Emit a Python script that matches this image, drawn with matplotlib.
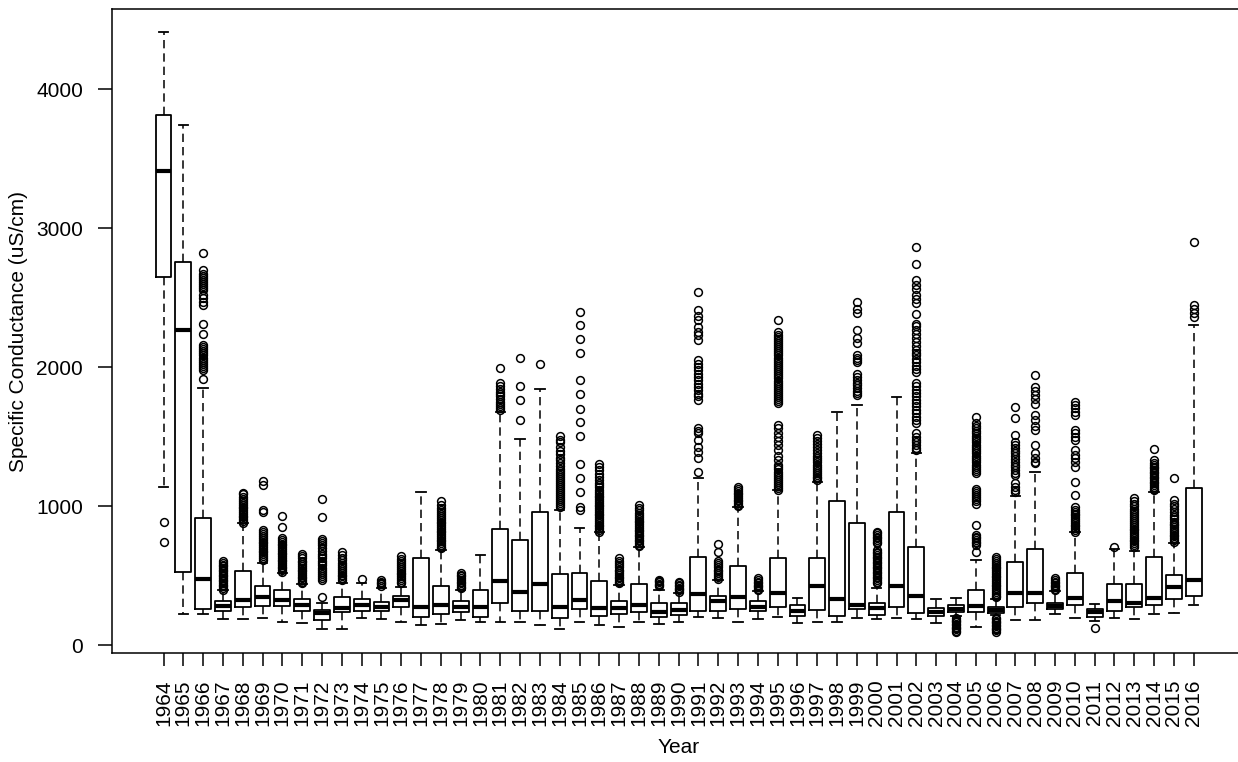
import matplotlib
matplotlib.use("Agg")
import matplotlib.pyplot as plt

plt.rcParams['font.family'] = ['Liberation Sans', 'DejaVu Sans']
plt.rcParams['lines.scale_dashes'] = False

years = list(range(1964, 2017))

whislo = [1136, 223, 223, 186, 186, 199, 170, 158, 117, 117, 199, 186, 170, 146, 153, 182, 170, 170, 170, 146,
          117, 170, 146, 130, 170, 153, 170, 206, 194, 170, 186, 206, 158, 170, 170, 199, 186, 194, 186, 158,
          208, 134, 220, 182, 182, 223, 199, 177, 199, 186, 223, 234, 290]
q1 = [2650, 529, 261, 246, 272, 285, 285, 248, 182, 236, 248, 248, 277, 206, 223, 236, 206, 302, 248, 248,
      194, 258, 213, 223, 236, 206, 218, 248, 248, 261, 246, 273, 213, 254, 211, 261, 218, 277, 234, 213,
      238, 236, 234, 273, 302, 258, 290, 206, 248, 273, 290, 330, 354]
med = [3412, 2267, 479, 282, 325, 350, 325, 287, 230, 265, 290, 275, 325, 277, 290, 277, 277, 465, 386, 438,
       277, 325, 265, 265, 290, 242, 254, 369, 321, 344, 277, 373, 248, 426, 333, 290, 265, 426, 356, 236,
       262, 285, 254, 373, 373, 283, 337, 236, 321, 306, 337, 421, 469]
q3 = [3812, 2758, 917, 318, 533, 426, 397, 330, 254, 344, 330, 314, 356, 625, 426, 318, 397, 836, 757, 956,
      512, 517, 465, 318, 438, 302, 302, 637, 356, 569, 318, 625, 290, 625, 1037, 877, 302, 956, 705, 265,
      288, 397, 277, 601, 692, 302, 517, 261, 438, 438, 637, 505, 1133]
whishi = [4411, 3745, 1852, 395, 877, 590, 522, 438, 306, 445, 445, 415, 416, 1100, 685, 397, 649, 1679, 1481, 1847,
          972, 845, 817, 433, 709, 400, 373, 1200, 469, 996, 390, 1116, 342, 1176, 1680, 1728, 409, 1783, 1380, 330,
          342, 613, 330, 1075, 1248, 390, 817, 297, 690, 677, 1104, 733, 2303]

fl_1964 = [888, 742]
fl_1965 = []
fl_1966 = [2825, 2702, 2674, 2660, 2645, 2630, 2615, 2600, 2585, 2570, 2555, 2520, 2495, 2470, 2447, 2315,
           2243, 2160, 2145, 2130, 2115, 2100, 2085, 2070, 2055, 2040, 2025, 2010, 1995, 1979, 1919]
fl_1967 = [400, 412, 424, 436, 448, 460, 472, 484, 496, 508, 520, 532, 544, 556, 568, 580, 592, 606]
fl_1968 = [882, 895, 908, 920, 933, 945, 958, 970, 985, 998, 1010, 1025, 1040, 1055, 1070, 1085, 1098]
fl_1969 = [617, 630, 642, 655, 668, 680, 693, 706, 720, 733, 746, 760, 773, 788, 802, 816, 829, 960, 970, 1150, 1185]
fl_1970 = [529, 541, 553, 566, 578, 590, 603, 616, 628, 641, 654, 667, 680, 693, 706, 719, 732, 745, 757, 769, 852, 929]
fl_1971 = [445, 458, 470, 482, 494, 507, 520, 532, 545, 558, 571, 584, 597, 610, 625, 640, 656]
fl_1972 = [350, 469, 482, 496, 510, 524, 540, 556, 575, 592, 608, 625, 642, 660, 680, 700, 718, 735, 750, 762, 925, 1052]
fl_1973 = [469, 482, 495, 508, 521, 534, 548, 562, 578, 595, 612, 630, 650, 673]
fl_1974 = [478]
fl_1975 = [428, 438, 448, 458, 468]
fl_1976 = [445, 458, 471, 484, 497, 510, 523, 536, 549, 562, 575, 590, 605, 620, 642]
fl_1977 = []
fl_1978 = [697, 710, 722, 735, 748, 760, 773, 786, 799, 812, 825, 838, 851, 864, 877, 890, 903, 916, 930, 945,
           960, 975, 990, 1012, 1039]
fl_1979 = [409, 421, 433, 445, 457, 470, 483, 496, 509, 522]
fl_1980 = []
fl_1981 = [1691, 1705, 1720, 1735, 1752, 1770, 1790, 1808, 1825, 1845, 1865, 1884, 1998]
fl_1982 = [1624, 1768, 1864, 2070]
fl_1983 = [2027]
fl_1984 = [996, 1010, 1024, 1038, 1052, 1066, 1080, 1094, 1108, 1122, 1136, 1150, 1165, 1180, 1195, 1210, 1225,
           1240, 1255, 1270, 1290, 1310, 1330, 1350, 1375, 1400, 1430, 1460, 1480, 1504]
fl_1985 = [975, 995, 1104, 1200, 1307, 1504, 1607, 1703, 1811, 1907, 2104, 2200, 2303, 2398]
fl_1986 = [817, 830, 843, 856, 869, 882, 895, 908, 921, 934, 947, 960, 973, 986, 999, 1012, 1025, 1038, 1051,
           1064, 1077, 1090, 1104, 1120, 1136, 1152, 1170, 1188, 1210, 1235, 1260, 1285, 1307]
fl_1987 = [445, 457, 469, 481, 493, 505, 518, 531, 545, 560, 576, 592, 608, 625]
fl_1988 = [712, 724, 736, 748, 760, 772, 784, 796, 808, 820, 832, 845, 858, 871, 884, 897, 910, 925, 940, 955,
           970, 985, 1008]
fl_1989 = [424, 434, 444, 454, 464, 470]
fl_1990 = [385, 395, 405, 415, 425, 435, 445, 457]
fl_1991 = [1248, 1344, 1392, 1428, 1476, 1524, 1545, 1560, 1764, 1790, 1811, 1835, 1860, 1883, 1907, 1931, 1955,
           1979, 2003, 2027, 2051, 2195, 2230, 2255, 2290, 2338, 2370, 2410, 2542]
fl_1992 = [480, 492, 505, 518, 531, 545, 560, 575, 590, 607, 672, 732]
fl_1993 = [1000, 1012, 1024, 1036, 1048, 1060, 1072, 1085, 1098, 1112, 1125, 1140]
fl_1994 = [397, 407, 417, 427, 437, 447, 457, 468, 481]
fl_1995 = [1116, 1130, 1145, 1160, 1175, 1190, 1205, 1220, 1235, 1250, 1265, 1280, 1296, 1330, 1360, 1404, 1440,
           1470, 1500, 1530, 1560, 1583, 1740, 1755, 1770, 1785, 1800, 1815, 1830, 1845, 1860, 1875, 1890, 1905,
           1920, 1935, 1950, 1965, 1980, 1995, 2010, 2025, 2040, 2055, 2070, 2085, 2100, 2115, 2130, 2145, 2160,
           2175, 2190, 2205, 2220, 2235, 2255, 2343]
fl_1996 = []
fl_1997 = [1188, 1200, 1213, 1226, 1240, 1255, 1270, 1285, 1300, 1316, 1332, 1348, 1365, 1385, 1405, 1425, 1445,
           1470, 1490, 1511]
fl_1998 = []
fl_1999 = [1799, 1815, 1830, 1850, 1870, 1890, 1910, 1930, 1955, 2040, 2055, 2070, 2087, 2173, 2210, 2266, 2390,
           2420, 2470]
fl_2000 = [445, 457, 469, 481, 493, 505, 517, 529, 541, 553, 565, 577, 589, 601, 613, 625, 637, 649, 661, 673,
           685, 733, 745, 757, 769, 781, 793, 805, 817]
fl_2001 = []
fl_2002 = [1404, 1420, 1440, 1460, 1480, 1500, 1524, 1596, 1620, 1645, 1670, 1695, 1720, 1745, 1764, 1790, 1815,
           1840, 1865, 1884, 1967, 1990, 2010, 2035, 2060, 2085, 2105, 2123, 2150, 2180, 2210, 2240, 2270, 2295,
           2315, 2387, 2459, 2490, 2520, 2560, 2590, 2626, 2746, 2866]
fl_2003 = []
fl_2004 = [95, 105, 115, 125, 135, 145, 155, 165, 175, 185, 195]
fl_2005 = [673, 721, 733, 745, 757, 769, 781, 793, 864, 1020, 1035, 1050, 1065, 1080, 1095, 1110, 1128, 1236, 1252,
           1268, 1284, 1300, 1316, 1332, 1348, 1364, 1380, 1396, 1412, 1428, 1444, 1460, 1476, 1492, 1508, 1524,
           1540, 1560, 1580, 1600, 1644]
fl_2006 = [98, 108, 118, 128, 138, 148, 158, 168, 178, 188, 198, 345, 358, 371, 384, 397, 410, 423, 436, 449, 462,
           475, 488, 501, 514, 527, 540, 553, 566, 579, 592, 605, 618, 637]
fl_2007 = [1104, 1120, 1140, 1164, 1224, 1240, 1260, 1280, 1300, 1320, 1340, 1360, 1380, 1400, 1420, 1440, 1464,
           1512, 1632, 1711]
fl_2008 = [1308, 1320, 1344, 1380, 1440, 1548, 1575, 1620, 1655, 1739, 1770, 1800, 1830, 1859, 1943]
fl_2009 = [397, 407, 417, 427, 437, 447, 457, 468, 481]
fl_2010 = [817, 830, 843, 856, 869, 882, 895, 908, 921, 934, 947, 960, 975, 996, 1080, 1176, 1284, 1320, 1345,
           1370, 1404, 1476, 1500, 1525, 1548, 1655, 1680, 1705, 1730, 1751]
fl_2011 = [122]
fl_2012 = [705]
fl_2013 = [709, 722, 735, 748, 761, 774, 787, 800, 813, 826, 839, 852, 865, 878, 891, 905, 920, 935, 950, 965,
           980, 1000, 1020, 1040, 1060]
fl_2014 = [1116, 1128, 1140, 1152, 1164, 1176, 1188, 1200, 1212, 1224, 1236, 1248, 1260, 1272, 1284, 1296, 1310,
           1332, 1411]
fl_2015 = [745, 758, 771, 784, 797, 810, 823, 836, 849, 862, 875, 890, 905, 920, 940, 960, 980, 1000, 1020, 1044, 1200]
fl_2016 = [2360, 2390, 2420, 2450, 2905]

fliers = [globals()[f"fl_{y}"] for y in years]

stats = []
for i, y in enumerate(years):
    stats.append(dict(med=med[i], q1=q1[i], q3=q3[i], whislo=whislo[i], whishi=whishi[i],
                      fliers=fliers[i], label=str(y)))

fig = plt.figure(figsize=(12.38, 7.62), dpi=100)
ax = fig.add_axes([111.6 / 1238, (762 - 653.3) / 762, 1134 / 1238, 644.3 / 762])

positions = list(range(1, len(years) + 1))
ax.bxp(stats, positions=positions, widths=0.8, capwidths=0.48, showfliers=True,
       boxprops=dict(color='black', linewidth=1.3),
       medianprops=dict(color='black', linewidth=3.0, solid_capstyle='butt'),
       whiskerprops=dict(color='black', linewidth=1.1, linestyle=(0, (6.0, 3.6))),
       capprops=dict(color='black', linewidth=1.3),
       flierprops=dict(marker='o', markerfacecolor='none', markeredgecolor='black',
                       markersize=5.6, markeredgewidth=1.1, linestyle='none'))

ax.set_xlim(-1.62, 55.62)
ax.set_ylim(-57.6, 4577.7)
ax.set_yticks([0, 1000, 2000, 3000, 4000])
ax.set_yticklabels(['0', '1000', '2000', '3000', '4000'], fontsize=15)
ax.set_xticks(positions)
ax.set_xticklabels([str(y) for y in years], rotation=90, fontsize=15)
ax.tick_params(axis='y', direction='out', length=10, width=1.1, pad=10.5, colors='black')
ax.tick_params(axis='x', direction='out', length=9.4, width=1.1, pad=9.5, colors='black')
for s in ax.spines.values():
    s.set_linewidth(1.1)
    s.set_color('black')

fig.text(19 / 1238, (762 - 331) / 762, 'Specific Conductance (uS/cm)', rotation=90,
         ha='center', va='center', fontsize=15, color='black')
fig.text(678.6 / 1238, 0.006, 'Year', ha='center', va='bottom', fontsize=15, color='black')

fig.savefig('out.png', dpi=100, facecolor='white')
